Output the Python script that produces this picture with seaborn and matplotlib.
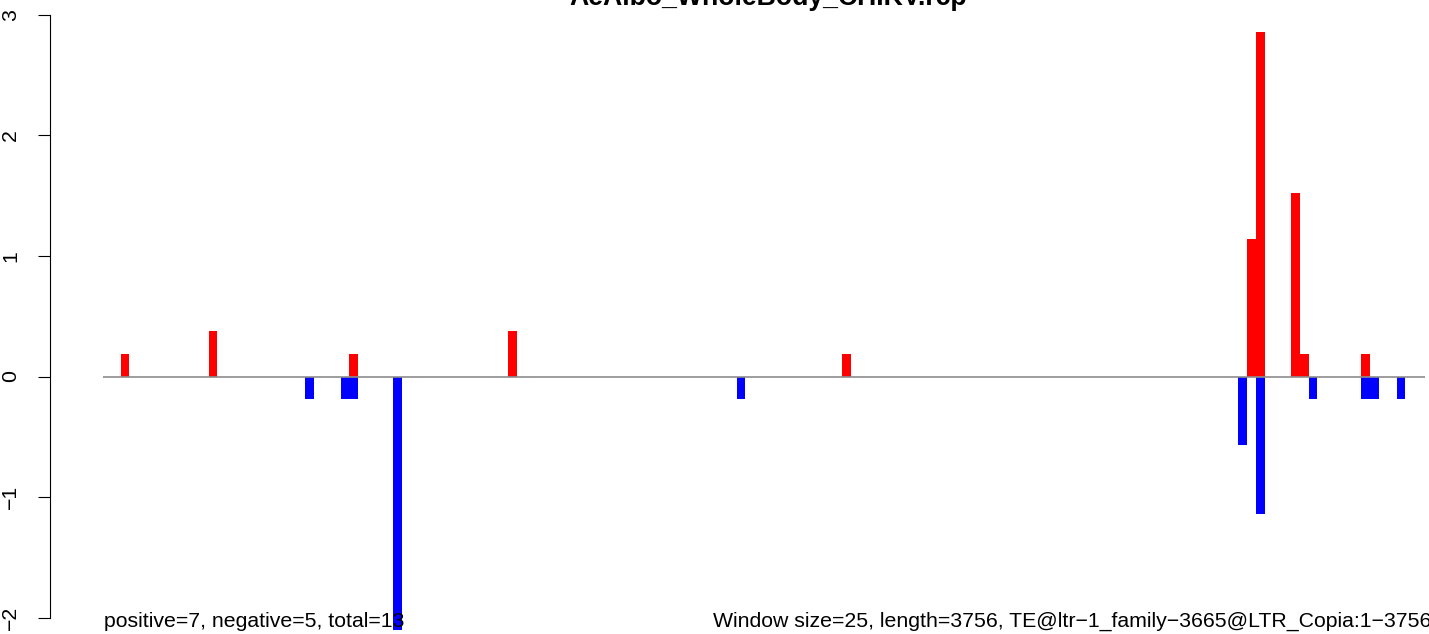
import matplotlib
matplotlib.use("Agg")
import matplotlib.pyplot as plt
import seaborn as sns
import pandas as pd

TITLE = "AeAlbo_WholeBody_CHIKV.rcp"
LEFT_NOTE = "positive=7, negative=5, total=13"
RIGHT_NOTE = "Window size=25, length=3756, TE@ltr\u22121_family\u22123665@LTR_Copia:1\u22123756"
WINDOW = 25
SEQ_LENGTH = 3756

# window index -> signal
pos_windows = [2, 12, 28, 46, 84, 130, 131, 135, 136, 143]
pos_values = [0.19, 0.38, 0.19, 0.38, 0.19, 1.14, 2.86, 1.52, 0.19, 0.19]
neg_windows = [23, 27, 28, 33, 72, 129, 131, 137, 143, 144, 147]
neg_values = [-0.19, -0.19, -0.19, -2.10, -0.19, -0.57, -1.14, -0.19, -0.19, -0.19, -0.19]
y_ticks = [-2, -1, 0, 1, 2, 3]


def build_frame():
    pos = pd.DataFrame({'window': pos_windows, 'value': pos_values, 'strand': '+'})
    neg = pd.DataFrame({'window': neg_windows, 'value': neg_values, 'strand': '-'})
    df = pd.concat([pos, neg], ignore_index=True)
    df['position'] = df['window'] * WINDOW + WINDOW / 2
    return df


def main():
    sns.set_style('white')
    plt.rcParams['font.family'] = ['Liberation Sans', 'DejaVu Sans']
    plt.rcParams['text.color'] = 'black'
    plt.rcParams['ytick.color'] = 'black'

    W, H = 1429, 634
    fig = plt.figure(figsize=(W / 100, H / 100), dpi=100)
    ax = fig.add_axes([50 / W, 0, (W - 50) / W, 1])

    df = build_frame()
    sns.barplot(data=df, x='position', y='value', hue='strand',
                palette={'+': '#ff0000', '-': '#0000ff'},
                native_scale=True, dodge=False, width=1, saturation=1,
                linewidth=0, errorbar=None, legend=False, ax=ax)

    ax.hlines(0, 0, SEQ_LENGTH, color='#8c8c8c', lw=1.2, zorder=5)

    ax.set_xlim(-150.6, 3767)
    ax.set_ylim(-2.135, 3.122)
    ax.set_xticks([])
    ax.set_xlabel('')
    ax.set_ylabel('')
    ax.set_yticks(y_ticks)
    ax.set_yticklabels(['\u22122', '\u22121', '0', '1', '2', '3'])
    ax.tick_params(axis='y', length=9, width=0.8, pad=12.5, labelsize=15.3,
                   labelrotation=90, left=True, color='black',
                   labelcolor='black')
    for lab in ax.get_yticklabels():
        lab.set_va('center')
    for side in ['top', 'right', 'bottom']:
        ax.spines[side].set_visible(False)
    ax.spines['left'].set_bounds(-2, 3)
    ax.spines['left'].set_linewidth(0.8)
    ax.spines['left'].set_color('black')
    ax.patch.set_alpha(0)

    fig.text(768 / W, 1 - 5 / H, TITLE, ha='center', va='baseline',
             fontsize=19.2, fontweight='bold', color='black')
    fig.text(104 / W, 7 / H, LEFT_NOTE, ha='left', va='baseline',
             fontsize=15.3, color='black', zorder=10)
    fig.text(713 / W, 7 / H, RIGHT_NOTE, ha='left', va='baseline',
             fontsize=15.3, color='black', zorder=10)

    fig.savefig('out.png', dpi=100)


if __name__ == '__main__':
    main()
